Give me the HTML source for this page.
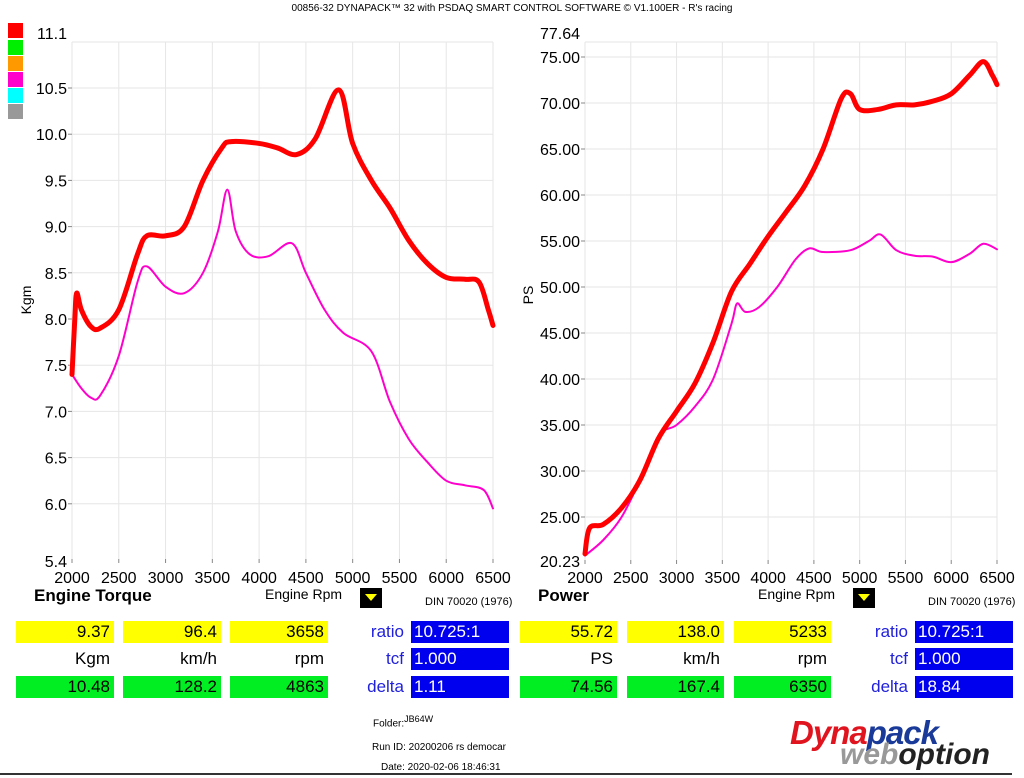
<!DOCTYPE html>
<html><head><meta charset="utf-8"><style>
body{margin:0;width:1024px;height:778px;background:#fff;font-family:"Liberation Sans",Arial,sans-serif;overflow:hidden;position:relative}
.a{position:absolute;white-space:nowrap}
.bx{position:absolute;height:22px;font-size:17px;line-height:22px;text-align:right;padding-right:4px;box-sizing:border-box}
.y{background:#ffff00}.g{background:#00ee22}
.b{background:#0000ee;color:#fff;text-align:left;padding-left:3px}
.lb{position:absolute;font-size:17px;color:#2020dd;text-align:right;width:60px;line-height:22px}
.u{position:absolute;font-size:17px;text-align:right;line-height:22px}
</style></head><body>
<div class="a" style="left:0;top:3px;width:1024px;text-align:center;font-size:10px">00856-32 DYNAPACK™ 32 with PSDAQ SMART CONTROL SOFTWARE © V1.100ER - R's racing</div>
<div class="a" style="left:8px;top:23px;width:15px;height:15px;background:#f00"></div>
<div class="a" style="left:8px;top:40px;width:15px;height:15px;background:#0e0"></div>
<div class="a" style="left:8px;top:56px;width:15px;height:15px;background:#f90"></div>
<div class="a" style="left:8px;top:72px;width:15px;height:15px;background:#f0c"></div>
<div class="a" style="left:8px;top:88px;width:15px;height:15px;background:#0ff"></div>
<div class="a" style="left:8px;top:104px;width:15px;height:15px;background:#999"></div>
<svg id="s" width="1024" height="778" style="position:absolute;left:0;top:0" font-family="Liberation Sans, Arial, sans-serif"></svg>
<div class="a" style="left:34px;top:586px;font-size:17px;font-weight:bold">Engine Torque</div>
<div class="a" style="left:265px;top:586px;font-size:14px">Engine Rpm</div>
<div class="a" style="left:360px;top:588px;width:22px;height:20px;background:#000"><div style="margin:6px auto 0;width:0;height:0;border-left:6px solid transparent;border-right:6px solid transparent;border-top:7px solid #ff0"></div></div>
<div class="a" style="left:425px;top:596px;font-size:11px">DIN 70020 (1976)</div>
<div class="a" style="left:538px;top:586px;font-size:17px;font-weight:bold">Power</div>
<div class="a" style="left:758px;top:586px;font-size:14px">Engine Rpm</div>
<div class="a" style="left:853px;top:588px;width:22px;height:20px;background:#000"><div style="margin:6px auto 0;width:0;height:0;border-left:6px solid transparent;border-right:6px solid transparent;border-top:7px solid #ff0"></div></div>
<div class="a" style="left:928px;top:596px;font-size:11px">DIN 70020 (1976)</div>

<div class="bx y" style="left:16px;top:621px;width:98px">9.37</div>
<div class="bx y" style="left:123px;top:621px;width:98px">96.4</div>
<div class="bx y" style="left:230px;top:621px;width:98px">3658</div>
<div class="u" style="left:16px;top:648px;width:94px">Kgm</div>
<div class="u" style="left:123px;top:648px;width:94px">km/h</div>
<div class="u" style="left:230px;top:648px;width:94px">rpm</div>
<div class="bx g" style="left:16px;top:676px;width:98px">10.48</div>
<div class="bx g" style="left:123px;top:676px;width:98px">128.2</div>
<div class="bx g" style="left:230px;top:676px;width:98px">4863</div>
<div class="lb" style="left:344px;top:621px">ratio</div>
<div class="lb" style="left:344px;top:648px">tcf</div>
<div class="lb" style="left:344px;top:676px">delta</div>
<div class="bx b" style="left:411px;top:621px;width:98px">10.725:1</div>
<div class="bx b" style="left:411px;top:648px;width:98px">1.000</div>
<div class="bx b" style="left:411px;top:676px;width:98px">1.11</div>

<div class="bx y" style="left:520px;top:621px;width:97px">55.72</div>
<div class="bx y" style="left:627px;top:621px;width:97px">138.0</div>
<div class="bx y" style="left:734px;top:621px;width:97px">5233</div>
<div class="u" style="left:520px;top:648px;width:93px">PS</div>
<div class="u" style="left:627px;top:648px;width:93px">km/h</div>
<div class="u" style="left:734px;top:648px;width:93px">rpm</div>
<div class="bx g" style="left:520px;top:676px;width:97px">74.56</div>
<div class="bx g" style="left:627px;top:676px;width:97px">167.4</div>
<div class="bx g" style="left:734px;top:676px;width:97px">6350</div>
<div class="lb" style="left:848px;top:621px">ratio</div>
<div class="lb" style="left:848px;top:648px">tcf</div>
<div class="lb" style="left:848px;top:676px">delta</div>
<div class="bx b" style="left:915px;top:621px;width:98px">10.725:1</div>
<div class="bx b" style="left:915px;top:648px;width:98px">1.000</div>
<div class="bx b" style="left:915px;top:676px;width:98px">18.84</div>

<div class="a" style="left:373px;top:714px;font-size:10px">Folder:<sup style="font-size:9px">JB64W</sup></div>
<div class="a" style="left:372px;top:742px;font-size:10px">Run ID: 20200206 rs democar</div>
<div class="a" style="left:381px;top:762px;font-size:10px">Date: 2020-02-06 18:46:31</div>
<div class="a" style="left:790px;top:714px;font-size:33px;font-weight:bold;font-style:italic;color:#e0141e;letter-spacing:-1px">Dyna<span style="color:#1a3a9a">pack</span></div>
<div class="a" style="left:840px;top:738px;font-size:30px;font-weight:bold;font-style:italic;color:#222"><span style="color:#999">web</span>option</div>
<div class="a" style="left:0;top:773px;width:1012px;height:2px;background:#333"></div>
<script>
var s=document.getElementById('s'),h='';
function L(x1,y1,x2,y2,c,w){h+='<line x1="'+x1+'" y1="'+y1+'" x2="'+x2+'" y2="'+y2+'" stroke="'+c+'" stroke-width="'+(w||1)+'"/>';}
function T(x,y,t,a,fs){h+='<text x="'+x+'" y="'+y+'" font-size="'+(fs||16)+'" text-anchor="'+(a||'middle')+'">'+t+'</text>';}
function path(pts,fx,fy,c,w){var p=pts.map(function(q){return[fx(q[0]),fy(q[1])]});var d='M'+p[0][0]+','+p[0][1];
for(var i=0;i<p.length-1;i++){var p0=p[i-1]||p[i],p1=p[i],p2=p[i+1],p3=p[i+2]||p2;
d+=' C'+(p1[0]+(p2[0]-p0[0])/6)+','+(p1[1]+(p2[1]-p0[1])/6)+' '+(p2[0]-(p3[0]-p1[0])/6)+','+(p2[1]-(p3[1]-p1[1])/6)+' '+p2[0]+','+p2[1];}
h+='<path d="'+d+'" fill="none" stroke="'+c+'" stroke-width="'+w+'" stroke-linejoin="round" stroke-linecap="round"/>';}
var lx=function(r){return 72+(r-2000)*421/4500},ly=function(v){return 88+(10.5-v)*92.4};
for(var r=2000;r<=6500;r+=500){L(lx(r),42,lx(r),559,'#e6e6e6');L(lx(r),559,lx(r),563,'#888');T(lx(r),583,r);}
[10.5,10,9.5,9,8.5,8,7.5,7,6.5,6].forEach(function(v){L(72,ly(v),493,ly(v),'#e6e6e6');L(68,ly(v),72,ly(v),'#888');T(67,ly(v)+6,v.toFixed(1),'end');});
L(72,42,493,42,'#e6e6e6');T(67,39,'11.1','end');T(67,567,'5.4','end');
h+='<text x="31" y="300" font-size="14" transform="rotate(-90 31 300)" text-anchor="middle">Kgm</text>';
path([[2000,7.4],[2100,7.25],[2200,7.15],[2300,7.17],[2500,7.6],[2700,8.4],[2800,8.57],[3000,8.35],[3200,8.28],[3400,8.5],[3560,8.95],[3660,9.4],[3750,8.95],[3900,8.7],[4100,8.68],[4350,8.82],[4500,8.5],[4700,8.1],[4900,7.85],[5200,7.65],[5400,7.1],[5600,6.7],[5800,6.45],[6000,6.25],[6200,6.2],[6400,6.15],[6500,5.95]],lx,ly,'#f0c',2);
path([[2000,7.4],[2030,8.0],[2050,8.28],[2100,8.1],[2200,7.92],[2300,7.9],[2500,8.1],[2700,8.7],[2800,8.9],[3000,8.9],[3200,9.0],[3400,9.5],[3600,9.85],[3700,9.92],[4000,9.9],[4200,9.85],[4400,9.78],[4600,9.95],[4850,10.48],[5000,9.9],[5200,9.5],[5400,9.2],[5600,8.85],[5800,8.6],[6000,8.45],[6200,8.43],[6350,8.4],[6450,8.1],[6500,7.93]],lx,ly,'#f00',5);
var rx=function(r){return 585+(r-2000)*412/4500},ry=function(v){return 517-(v-25)*9.2};
for(var r=2000;r<=6500;r+=500){L(rx(r),42,rx(r),560,'#e6e6e6');L(rx(r),560,rx(r),564,'#888');T(rx(r),583,r);}
for(var v=25;v<=75;v+=5){L(585,ry(v),997,ry(v),'#e6e6e6');L(581,ry(v),585,ry(v),'#888');T(580,ry(v)+6,v.toFixed(2),'end');}
L(585,42,997,42,'#e6e6e6');T(580,39,'77.64','end');T(580,567,'20.23','end');
h+='<text x="533" y="295" font-size="14" transform="rotate(-90 533 295)" text-anchor="middle">PS</text>';
path([[2000,20.8],[2200,22.5],[2400,25],[2600,29],[2800,33.8],[3000,35],[3200,37],[3400,40],[3600,46],[3660,48.2],[3750,47.3],[3900,47.8],[4100,50],[4300,53],[4450,54.2],[4600,53.8],[4900,54],[5100,55],[5230,55.7],[5400,54],[5600,53.4],[5800,53.3],[6000,52.7],[6200,53.6],[6350,54.7],[6500,54.1]],rx,ry,'#f0c',2);
path([[2000,21],[2050,23.8],[2200,24.2],[2400,26],[2600,29],[2800,33.5],[3000,36.5],[3200,39.5],[3400,44],[3600,49.5],[3800,52.5],[4000,55.5],[4200,58.2],[4400,61],[4600,65],[4800,70.5],[4900,71],[5000,69.3],[5200,69.3],[5400,69.8],[5600,69.8],[5800,70.2],[6000,71],[6200,73],[6350,74.5],[6450,73],[6500,72]],rx,ry,'#f00',5);
s.innerHTML=h;
</script>
</body></html>
